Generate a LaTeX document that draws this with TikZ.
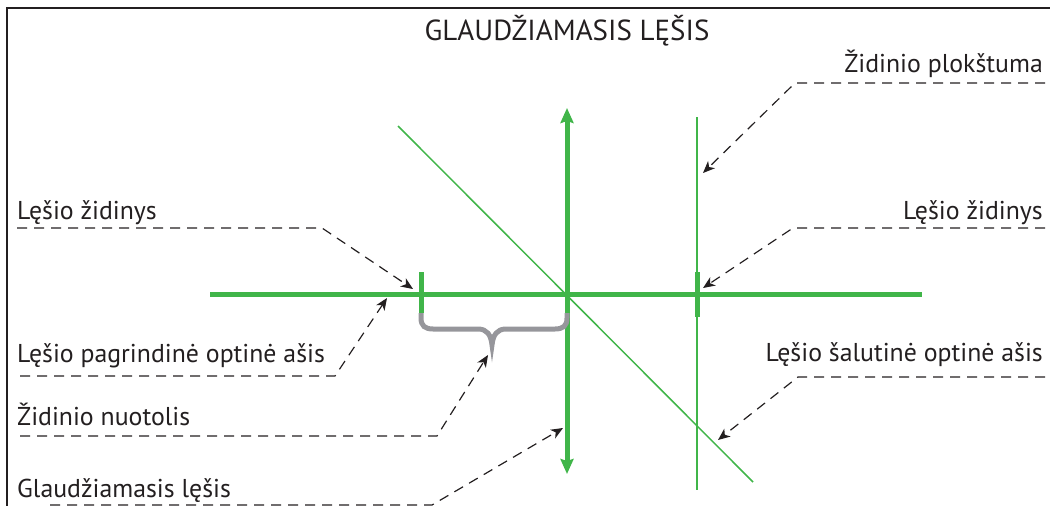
\documentclass[tikz,border=0pt]{standalone}
\usepackage{fontspec}
\setmainfont{PT Sans}
\usetikzlibrary{arrows.meta}
\definecolor{lensgreen}{RGB}{64,181,73}
\definecolor{bracegray}{RGB}{150,150,155}
\definecolor{ink}{RGB}{35,31,32}
\begin{document}
\begin{tikzpicture}[x=1pt,y=-1pt,
  lbl/.style={font=\fontsize{25.8}{30}\selectfont, text=ink, inner sep=0pt},
  ttl/.style={font=\fontsize{29}{34}\selectfont, text=ink, inner sep=0pt},
  callout/.style={draw=ink, line width=1.2pt, dash pattern=on 10pt off 7pt,
    -{Stealth[length=12pt,width=10pt,inset=3.5pt]}},
  thickgreen/.style={draw=lensgreen, line width=5pt},
  thingreen/.style={draw=lensgreen, line width=1.5pt},
  lensarrow/.style={{Stealth[length=15pt,width=13pt,inset=2pt]}-{Stealth[length=15pt,width=13pt,inset=2pt]}}]
\useasboundingbox (0,0) rectangle (1050,506);
% frame
\draw[ink, line width=1.4pt] (1050,8) -- (7,8) -- (7,506);
% title
\node[ttl, anchor=base] (title) at (567,40) {GLAUDŽIAMASIS LĘŠIS};
% optics
\draw[thingreen] (398,126) -- (753,482);
\draw[thingreen] (697,117) -- (697,490);
\draw[thickgreen] (210,294) -- (922,294);
\draw[thickgreen] (421,272) -- (421,313);
\draw[thickgreen] (697,272) -- (697,317);
\draw[thickgreen, lensarrow] (567,108) -- (567,474);
% brace
\draw[draw=bracegray, line width=5pt] (421,313) -- (421,318)
  .. controls (421,326) and (425,329) .. (433,329) -- (478,329)
  .. controls (487,329) and (491,335) .. (492,345)
  .. controls (493,335) and (497,329) .. (506,329) -- (555,329)
  .. controls (563,329) and (567,326) .. (567,318) -- (567,313);
% targets
\coordinate (fL) at (413,289);
\coordinate (pL) at (387,298);
\coordinate (bT) at (488,355);
\coordinate (lB) at (563,428);
\coordinate (fR) at (703,288);
\coordinate (pl) at (703,173);
\coordinate (sc) at (718,440);
% left labels
\node[lbl, anchor=base west] (lfoc) at (17,219) {Lęšio židinys};
\node[lbl, anchor=base west] (laxis) at (17,362) {Lęšio pagrindinė optinė ašis};
\node[lbl, anchor=base west] (ldist) at (17,425) {Židinio nuotolis};
\node[lbl, anchor=base west] (llens) at (17,497) {Glaudžiamasis lęšis};
% right labels
\node[lbl, anchor=base east] (rplane) at (1043,72) {Židinio plokštuma};
\node[lbl, anchor=base east] (rfoc) at (1043,219) {Lęšio židinys};
\node[lbl, anchor=base east] (rsec) at (1043,361) {Lęšio šalutinė optinė ašis};
% callouts
\draw[callout] ([yshift=-9pt]lfoc.base west) -- ++(305,0) -- (fL);
\draw[callout] ([shift={(3pt,-14pt)}]laxis.base west) -- ++(315,0) -- (pL);
\draw[callout] ([shift={(3pt,-11pt)}]ldist.base west) -- ++(417,0) -- (bT);
\draw[callout] ([shift={(33pt,-8pt)}]llens.base west) -- ++(382,0) -- (lB);
\draw[callout] ([shift={(2pt,-11pt)}]rplane.base east) -- ++(-250,0) -- (pl);
\draw[callout] ([shift={(2pt,-9pt)}]rfoc.base east) -- ++(-252,0) -- (fR);
\draw[callout] ([shift={(2pt,-16pt)}]rsec.base east) -- ++(-247,0) -- (sc);
\end{tikzpicture}
\end{document}
